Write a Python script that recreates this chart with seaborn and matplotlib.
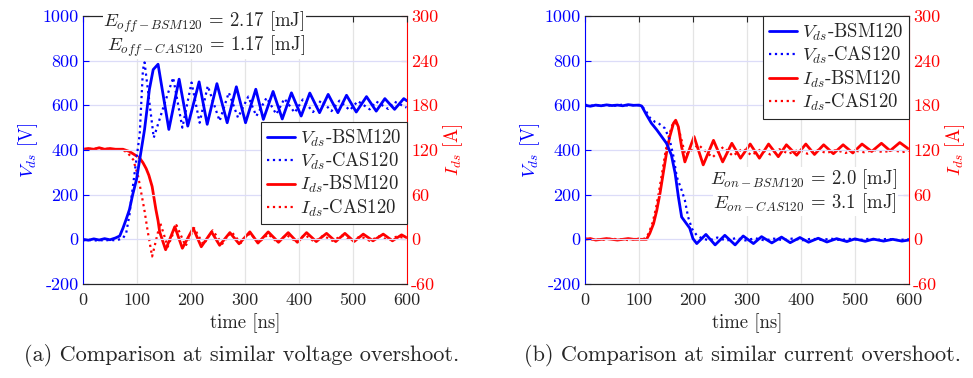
import seaborn as sns
import matplotlib.pyplot as plt

# ---- (a) turn-off, similar voltage overshoot ----
t_off_v_bsm = [0, 10, 20, 30, 40, 50, 60, 68, 74, 80, 86, 92, 99, 108, 114, 123, 130, 139,
               159, 178, 194, 215, 230, 248, 267, 284, 301, 320, 334, 352, 369, 386, 404,
               420, 438, 454, 472, 488, 506, 525, 543, 559, 577, 594, 600]
v_off_bsm = [0, -4, 2, -3, 3, -2, 6, 15, 50, 90, 133, 200, 267, 402, 492, 672, 760, 784,
             492, 717, 507, 705, 515, 697, 522, 683, 522, 672, 537, 662, 539, 656, 552,
             655, 567, 649, 567, 645, 570, 639, 574, 630, 582, 630, 620]

t_off_v_cas = [0, 10, 20, 30, 40, 50, 60, 68, 74, 80, 86, 90, 98, 105, 111, 114, 131, 150,
               167, 184, 201, 216, 231, 253, 270, 287, 306, 321, 340, 358, 373, 392, 407,
               426, 441, 460, 475, 494, 509, 531, 543, 565, 577, 599]
v_off_cas = [-5, -2, -6, -3, -6, -2, -5, 0, 5, 28, 110, 192, 342, 470, 760, 792, 455, 600,
             724, 500, 702, 522, 687, 530, 657, 545, 639, 552, 634, 560, 630, 567, 626,
             570, 623, 574, 621, 578, 619, 582, 617, 584, 616, 590]

t_off_i_bsm = [0, 10, 20, 30, 40, 50, 60, 74, 86, 99, 105, 111, 117, 122, 128, 135, 139,
               142, 153, 170, 184, 204, 219, 238, 253, 272, 289, 309, 324, 343, 362, 380,
               397, 414, 432, 451, 468, 485, 502, 519, 537, 556, 573, 590, 600]
i_off_bsm = [121, 122, 121, 123, 121, 122, 121, 121, 118, 112, 109, 103, 95, 86, 71, 40, 25,
             10, -14, 17, -12, 15, -10, 10, -8, 9, -6, 10, -5, 10, -4, 9, -4, 9, -3, 8, -3,
             8, -3, 7, -2, 7, -2, 6, 2]

t_off_i_cas = [0, 10, 20, 30, 40, 50, 60, 74, 83, 93, 102, 109, 114, 120, 128, 143, 157,
               173, 190, 206, 223, 240, 258, 275, 292, 309, 326, 343, 360, 377, 394, 411,
               428, 445, 462, 480, 497, 514, 531, 548, 565, 582, 600]
i_off_cas = [121, 121, 122, 121, 122, 121, 121, 120, 116, 107, 85, 58, 38, 10, -23, 22, -10,
             19, -9, 15, -7, 12, -6, 10, -5, 8, -4, 7, -4, 6, -3, 6, -3, 5, -2, 5, -2, 4,
             -2, 4, -1, 4, 1]

# ---- (b) turn-on, similar current overshoot ----
t_on_v_bsm = [0, 10, 20, 30, 40, 50, 60, 70, 80, 90, 100, 105, 114, 123, 133, 142, 151, 160,
              167, 173, 179, 188, 194, 200, 207, 224, 241, 259, 278, 293, 312, 327, 346,
              364, 380, 398, 414, 432, 448, 466, 485, 500, 519, 534, 553, 570, 587, 600]
v_on_bsm = [600, 596, 601, 598, 602, 599, 601, 598, 603, 600, 601, 597, 557, 520, 490, 460,
            430, 378, 295, 190, 100, 70, 50, 3, -19, 22, -25, 18, -25, 15, -19, 12, -16, 10,
            -15, 8, -13, 5, -12, 3, -10, 2, -9, 1, -8, 0, -8, -3]

t_on_v_cas = [0, 10, 20, 30, 40, 50, 60, 70, 80, 90, 100, 105, 114, 120, 130, 136, 148, 157,
              164, 170, 179, 185, 191, 198, 207, 216, 230, 245, 262, 280, 297, 315, 333,
              350, 368, 385, 403, 420, 438, 455, 473, 490, 508, 525, 543, 560, 578, 600]
v_on_cas = [603, 598, 601, 599, 602, 597, 600, 603, 599, 601, 600, 598, 570, 545, 525, 520,
            497, 445, 370, 280, 220, 175, 100, 48, 18, 5, -5, 8, -6, 6, -5, 5, -5, 3, -4, 4,
            -4, 3, -3, 3, -3, 2, -3, 2, -2, 2, -3, 0]

t_on_i_bsm = [0, 10, 20, 30, 40, 50, 60, 70, 80, 90, 100, 114, 120, 127, 133, 139, 145, 151,
              157, 164, 168, 173, 179, 185, 202, 219, 238, 255, 272, 288, 306, 323, 340,
              358, 373, 392, 409, 425, 442, 460, 478, 496, 513, 531, 549, 565, 583, 600]
i_on_bsm = [0, 1, -1, 0, 1, 0, -1, 0, 1, 0, 0, 0, 8, 21, 39, 62, 89, 116, 138, 156, 160,
            151, 124, 104, 138, 100, 133, 104, 129, 109, 128, 109, 128, 111, 127, 113, 128,
            114, 127, 115, 127, 116, 128, 118, 129, 119, 130, 121]

t_on_i_cas = [0, 10, 20, 30, 40, 50, 60, 70, 80, 90, 100, 112, 118, 125, 131, 137, 143, 149,
              155, 162, 168, 173, 186, 210, 236, 256, 274, 292, 308, 326, 343, 360, 377,
              395, 412, 430, 447, 465, 482, 500, 517, 535, 552, 570, 587, 600]
i_on_cas = [1, 0, 0, -1, 0, 1, 0, 0, -1, 0, 1, 1, 8, 22, 40, 64, 90, 117, 138, 154, 157,
            150, 113, 127, 110, 124, 112, 122, 113, 121, 114, 121, 115, 120, 115, 120, 116,
            120, 116, 119, 117, 120, 117, 120, 117, 119]

v_ticks = [-200, 0, 200, 400, 600, 800, 1000]
v_labels = ['-200', '0', '200', '400', '600', '800', '1000']
i_ticks = [-60, 0, 60, 120, 180, 240, 300]
i_labels = ['-60', '0', '60', '120', '180', '240', '300']
t_ticks = [0, 100, 200, 300, 400, 500, 600]

captions = ['(a) Comparison at similar voltage overshoot.',
            '(b) Comparison at similar current overshoot.']
energy_text = [[r'$E_{off-BSM120}$ = 2.17 [mJ]', r'$E_{off-CAS120}$ = 1.17 [mJ]'],
               [r'$E_{on-BSM120}$ = 2.0 [mJ]', r'$E_{on-CAS120}$ = 3.1 [mJ]']]
labels = [r'$V_{ds}$-BSM120', r'$V_{ds}$-CAS120', r'$I_{ds}$-BSM120', r'$I_{ds}$-CAS120']

sns.set_style('white')
plt.rcParams['font.family'] = ['cmr10', 'DejaVu Serif']
plt.rcParams['mathtext.fontset'] = 'cm'
plt.rcParams['axes.unicode_minus'] = False

BLUE = '#0000ff'
RED = '#ff0000'
FS = 13

fig = plt.figure(figsize=(9.73, 3.78), dpi=100)
panels = [
    (0.0853, (t_off_v_bsm, v_off_bsm, t_off_v_cas, v_off_cas,
              t_off_i_bsm, i_off_bsm, t_off_i_cas, i_off_cas)),
    (0.6012, (t_on_v_bsm, v_on_bsm, t_on_v_cas, v_on_cas,
              t_on_i_bsm, i_on_bsm, t_on_i_cas, i_on_cas)),
]

for k, (left, d) in enumerate(panels):
    ax = fig.add_axes([left, 0.2487, 0.333, 0.709])
    ax2 = ax.twinx()
    ax.set_zorder(1)
    ax.patch.set_visible(False)
    ax2.set_zorder(0)

    sns.lineplot(x=d[0], y=d[1], ax=ax, color=BLUE, lw=2.0, estimator=None, label=labels[0])
    sns.lineplot(x=d[2], y=d[3], ax=ax, color=BLUE, lw=1.6, ls=':', estimator=None, label=labels[1])
    sns.lineplot(x=d[4], y=d[5], ax=ax2, color=RED, lw=2.0, estimator=None, label=labels[2])
    sns.lineplot(x=d[6], y=d[7], ax=ax2, color=RED, lw=1.6, ls=':', estimator=None, label=labels[3])

    ax.set_xlim(0, 600)
    ax.set_ylim(-200, 1000)
    ax2.set_ylim(-60, 300)
    ax.set_xticks(t_ticks)
    ax.set_xticklabels([str(t) for t in t_ticks], fontsize=FS)
    ax.set_yticks(v_ticks)
    ax.set_yticklabels(v_labels, fontsize=FS, color=BLUE)
    ax2.set_yticks(i_ticks)
    ax2.set_yticklabels(i_labels, fontsize=FS, color=RED)

    ax.grid(axis='y', color='#dcdcf8', lw=0.9)
    ax.grid(axis='x', color='#e4e4e4', lw=0.9)
    ax.tick_params(axis='x', direction='in', length=4, top=True, colors='#262626', pad=6)
    ax.tick_params(axis='y', direction='in', length=4, colors=BLUE, pad=3)
    ax2.tick_params(axis='y', direction='in', length=4, colors=RED, pad=3)
    for a in (ax, ax2):
        a.spines['top'].set_color('#262626')
        a.spines['bottom'].set_color('#262626')
    ax.spines['left'].set_color(BLUE)
    ax.spines['right'].set_visible(False)
    ax2.spines['right'].set_color(RED)
    ax2.spines['left'].set_visible(False)

    ax.set_xlabel('time [ns]', fontsize=FS + 0.5, color='#262626', labelpad=4)
    ax.set_ylabel(r'$V_{ds}$ [V]', fontsize=FS + 0.5, color=BLUE, labelpad=2)
    ax2.set_ylabel(r'$I_{ds}$ [A]', fontsize=FS + 0.5, color=RED, labelpad=2)

    h1, l1 = ax.get_legend_handles_labels()
    h2, l2 = ax2.get_legend_handles_labels()
    if ax2.get_legend():
        ax2.get_legend().remove()
    ax.get_legend().remove()
    leg_kw = dict(fontsize=FS + 0.5, handlelength=1.5, handletextpad=0.25, labelspacing=0.12,
                  borderpad=0.3, borderaxespad=0, fancybox=False, framealpha=1)
    if k == 0:
        leg = ax.legend(h1 + h2, l1 + l2, loc='lower right', bbox_to_anchor=(1.0, 0.222), **leg_kw)
        tx, ty = 0.685, (0.978, 0.888)
    else:
        leg = ax.legend(h1 + h2, l1 + l2, loc='upper right', **leg_kw)
        tx, ty = 0.963, (0.39, 0.30)
    leg.get_frame().set_edgecolor('#262626')
    leg.get_frame().set_linewidth(0.8)

    for line, y in zip(energy_text[k], ty):
        ax.text(tx, y, line, transform=ax.transAxes, ha='right', va='center',
                fontsize=13.5, color='#262626',
                bbox=dict(facecolor='white', edgecolor='none', pad=0.5))

    fig.text([0.248, 0.763][k], 0.06, captions[k], ha='center', va='center',
             fontsize=16, color='#262626')

fig.savefig('out.png', dpi=100)
